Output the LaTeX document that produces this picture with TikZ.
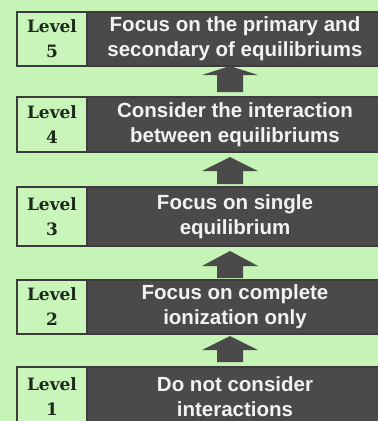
\documentclass[tikz,border=0pt]{standalone}
\usepackage{fontspec}
\setmainfont{Liberation Sans}
\newfontfamily\lvlfont{DejaVu Serif}
\definecolor{bggreen}{HTML}{C6F4B6}
\definecolor{boxgreen}{HTML}{C9F5BB}
\definecolor{darkfill}{HTML}{4B4A4B}
\definecolor{bordergray}{HTML}{3C3C3C}
\definecolor{lvltext}{HTML}{1C2A1C}
\definecolor{whitetext}{HTML}{F2F2F2}
\newcommand\blockup[3]{%
  \fill[darkfill] (230,#1) -- (258,#2) -- (243,#2) -- (243,#3) -- (217,#3) -- (217,#2) -- (202,#2) -- cycle;}
\begin{document}
\begin{tikzpicture}[x=1pt,y=-1pt,
  lvlbox/.style={draw=bordergray, line width=1.3pt, fill=boxgreen, minimum width=70pt, inner sep=0pt,
    align=center, text=lvltext, font=\lvlfont\bfseries\fontsize{17}{25}\selectfont},
  descbox/.style={draw=bordergray, line width=1.3pt, fill=darkfill, minimum width=296pt, inner sep=0pt,
    align=center, text=whitetext, font=\bfseries\fontsize{20.5}{25}\selectfont}]
\useasboundingbox (0,0) rectangle (378,421);
\fill[bggreen] (0,0) rectangle (378,421);
% Level 5
\node[lvlbox, minimum height=54pt] (l5) at (52,39) {Level\\5};
\node[descbox, minimum height=54pt] (d5) at (235,39) {Focus on the primary and\\secondary of equilibriums};
% Level 4
\node[lvlbox, minimum height=55pt] (l4) at (52,124.5) {Level\\4};
\node[descbox, minimum height=55pt] (d4) at (235,124.5) {Consider the interaction\\between equilibriums};
% Level 3
\node[lvlbox, minimum height=59pt] (l3) at (52,216.5) {Level\\3};
\node[descbox, minimum height=59pt] (d3) at (235,216.5) {Focus on single\\equilibrium};
% Level 2
\node[lvlbox, minimum height=54pt] (l2) at (52,307) {Level\\2};
\node[descbox, minimum height=54pt] (d2) at (235,307) {Focus on complete\\ionization only};
% Level 1
\node[lvlbox, minimum height=60pt] (l1) at (52,397) {Level\\1};
\node[descbox, minimum height=60pt] (d1) at (235,397) {Do not consider\\interactions};
% block arrows
\blockup{66}{75}{92}
\blockup{157}{171}{184}
\blockup{251}{266}{278}
\blockup{336}{350}{362}
\end{tikzpicture}
\end{document}
